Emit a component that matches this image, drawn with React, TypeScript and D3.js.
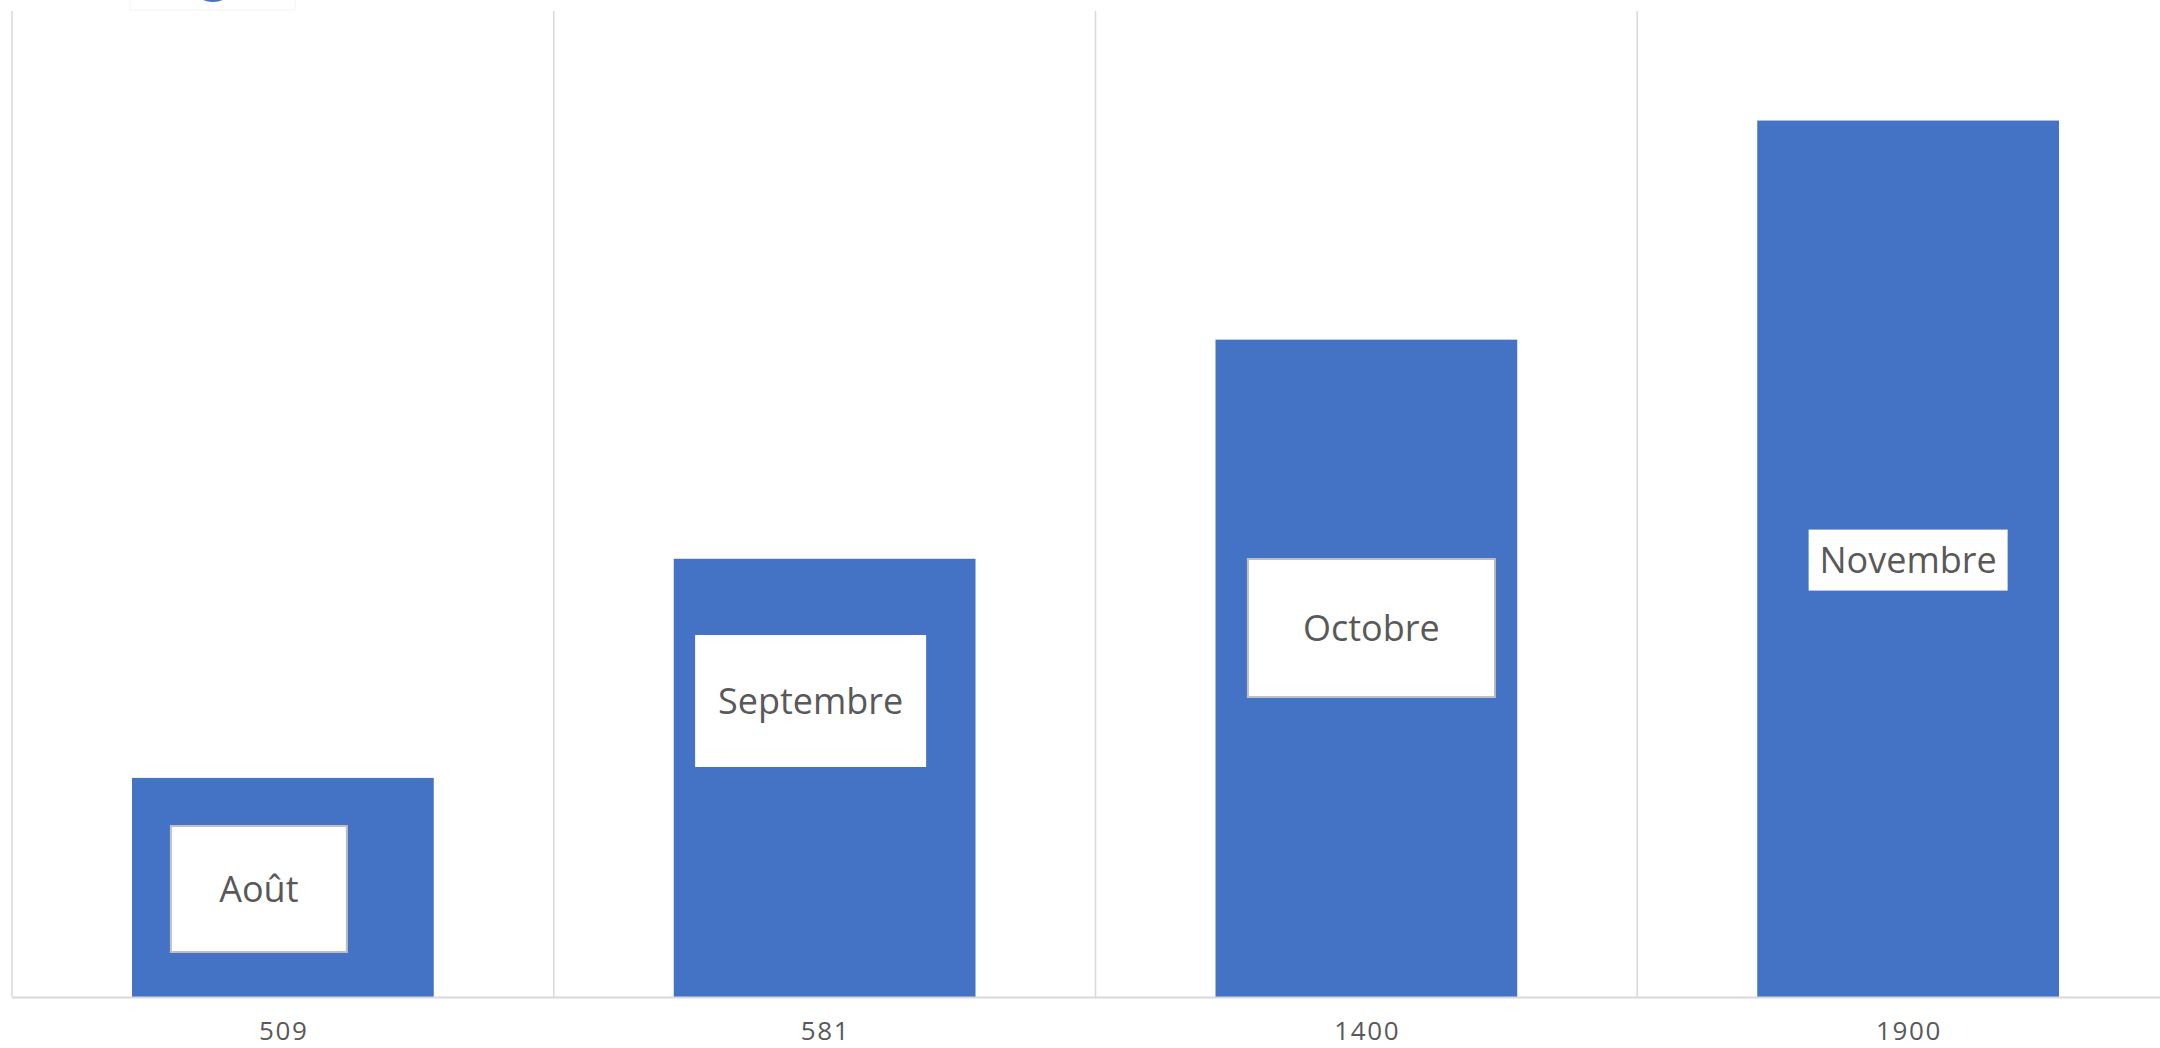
import React from "react";
import * as d3 from "d3";

const categories: string[] = ["509", "581", "1400", "1900"];
const values: number[] = [1, 2, 3, 4];
const labels: string[] = ["Août", "Septembre", "Octobre", "Novembre"];
const yMax = 4.5;

// layout of manually placed data-label boxes (dx in px from bar centre, cy in value units)
const labelLayout = [
  { dx: -24, cy: 0.493, w: 176, h: 126, border: true },
  { dx: -14, cy: 1.351, w: 231, h: 132, border: false },
  { dx: 5, cy: 1.684, w: 247, h: 138, border: true },
  { dx: 0, cy: 1.994, w: 199, h: 61, border: false },
];

const W = 2160;
const H = 1048;
const plot = { left: 12, right: 2179, top: 11, bottom: 997 };

export default function App() {
  const x = d3
    .scaleBand<string>()
    .domain(categories)
    .range([plot.left, plot.right])
    .paddingInner(0.443)
    .paddingOuter(0.2215);
  const bandStep = (plot.right - plot.left) / categories.length;
  const y = d3.scaleLinear().domain([0, yMax]).range([plot.bottom, plot.top]);
  const gridXs = d3.range(categories.length + 1).map((i) => plot.left + i * bandStep);
  const ls = 1.6;

  return (
    <div style={{ position: "fixed", left: 0, top: 0, width: W, height: H, background: "#fff" }}>
      <svg width={W} height={H} style={{ display: "block" }}>
        <rect x={0} y={0} width={W} height={H} fill="#fff" />
        {/* cut-off legend remnant */}
        <rect x={130} y={-5} width={165} height={15} fill="#fff" stroke="#f3f3f3" strokeWidth={1} />
        <ellipse cx={213} cy={-9} rx={17} ry={11} fill="#4472C4" />
        {/* vertical gridlines */}
        {gridXs.map((gx, i) => (
          <line key={i} x1={gx} x2={gx} y1={plot.top} y2={plot.bottom} stroke="#d9d9d9" strokeWidth={1.5} />
        ))}
        {/* bars */}
        {categories.map((c, i) => (
          <rect
            key={c}
            x={x(c)}
            y={y(values[i])}
            width={x.bandwidth()}
            height={plot.bottom - y(values[i])}
            fill="#4472C4"
          />
        ))}
        {/* axis line */}
        <line x1={plot.left} x2={W} y1={plot.bottom + 0.5} y2={plot.bottom + 0.5} stroke="#d9d9d9" strokeWidth={2} />
        {/* category labels */}
        {categories.map((c) => (
          <text
            key={c}
            x={(x(c) as number) + x.bandwidth() / 2 + ls / 2}
            y={1040}
            textAnchor="middle"
            fontFamily="'Open Sans', 'Noto Sans', sans-serif"
            fontSize={26}
            letterSpacing={ls}
            fill="#595959"
          >
            {c}
          </text>
        ))}
        {/* data labels */}
        {categories.map((c, i) => {
          const L = labelLayout[i];
          const cx = (x(c) as number) + x.bandwidth() / 2 + L.dx;
          const cy = y(L.cy);
          return (
            <g key={c}>
              <rect
                x={cx - L.w / 2}
                y={cy - L.h / 2}
                width={L.w}
                height={L.h}
                fill="#fff"
                stroke={L.border ? "#bfbfbf" : "none"}
                strokeWidth={2}
              />
              <text
                x={cx}
                y={cy}
                dy="0.36em"
                textAnchor="middle"
                fontFamily="'Open Sans', 'Noto Sans', sans-serif"
                fontSize={36}
                fill="#595959"
              >
                {labels[i]}
              </text>
            </g>
          );
        })}
      </svg>
    </div>
  );
}
